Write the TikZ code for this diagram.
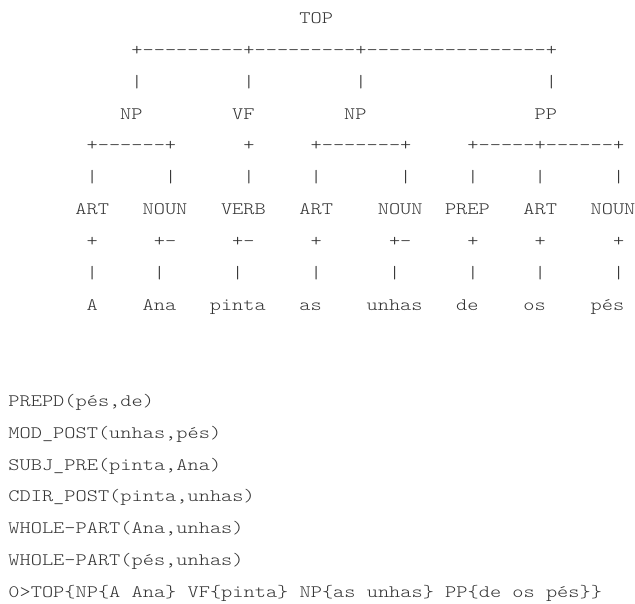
\documentclass[tikz,border=0pt]{standalone}
\definecolor{ink}{HTML}{333333}
\newcommand\dsh[1]{\foreach\i in {1,...,#1}{-\kern0pt}}
\begin{document}
\frenchspacing
\begin{tikzpicture}[x=11.2pt,y=-31.9pt,
  asc/.style={ink,inner sep=0pt,anchor=base,xscale=1.219,
    font=\ttfamily\fontseries{l}\fontsize{17.5}{20}\selectfont},
  ascl/.style={asc,anchor=base west}]
\useasboundingbox (-13.8pt,23.4pt) rectangle (621.2pt,-580.6pt);
% arvore
\draw (27,0) node[asc] (top) {TOP};
\draw (29.5,1) node[asc] (topbar) {+\dsh{9}+\dsh{9}+\dsh{16}+};
\draw (11,2) node[asc] (v1) {|};
\draw (21,2) node[asc] (v2) {|};
\draw (31,2) node[asc] (v3) {|};
\draw (48,2) node[asc] (v4) {|};
\draw (10.5,3) node[asc] (np1) {NP};
\draw (20.5,3) node[asc] (vf) {VF};
\draw (30.5,3) node[asc] (np2) {NP};
\draw (47.5,3) node[asc] (pp) {PP};
\draw (10.5,4) node[asc] (np1bar) {+\dsh{6}+};
\draw (21,4) node[asc] (vfbar) {+};
\draw (31,4) node[asc] (np2bar) {+\dsh{7}+};
\draw (47.5,4) node[asc] (ppbar) {+\dsh{5}+\dsh{6}+};
\draw (7,5) node[asc] (w1) {|};
\draw (14,5) node[asc] (w2) {|};
\draw (21,5) node[asc] (w3) {|};
\draw (27,5) node[asc] (w4) {|};
\draw (35,5) node[asc] (w5) {|};
\draw (41,5) node[asc] (w6) {|};
\draw (47,5) node[asc] (w7) {|};
\draw (54,5) node[asc] (w8) {|};
% categorias
\draw (7,6) node[asc] (art1) {ART};
\draw (13.5,6) node[asc] (noun1) {NOUN};
\draw (20.5,6) node[asc] (verb) {VERB};
\draw (27,6) node[asc] (art2) {ART};
\draw (34.5,6) node[asc] (noun2) {NOUN};
\draw (40.5,6) node[asc] (prep) {PREP};
\draw (47,6) node[asc] (art3) {ART};
\draw (53.5,6) node[asc] (noun3) {NOUN};
\draw (7,7) node[asc] (p1) {+};
\draw (13.5,7) node[asc] (p2) {+-};
\draw (20.5,7) node[asc] (p3) {+-};
\draw (27,7) node[asc] (p4) {+};
\draw (34.5,7) node[asc] (p5) {+-};
\draw (41,7) node[asc] (p6) {+};
\draw (47,7) node[asc] (p7) {+};
\draw (54,7) node[asc] (p8) {+};
\draw (7,8) node[asc] (u1) {|};
\draw (13,8) node[asc] (u2) {|};
\draw (20,8) node[asc] (u3) {|};
\draw (27,8) node[asc] (u4) {|};
\draw (34,8) node[asc] (u5) {|};
\draw (41,8) node[asc] (u6) {|};
\draw (47,8) node[asc] (u7) {|};
\draw (54,8) node[asc] (u8) {|};
% palavras
\draw (7,9) node[asc] (a) {A};
\draw (13,9) node[asc] (ana) {Ana};
\draw (20,9) node[asc] (pinta) {pinta};
\draw (26.5,9) node[asc] (as) {as};
\draw (34,9) node[asc] (unhas) {unhas};
\draw (40.5,9) node[asc] (de) {de};
\draw (46.5,9) node[asc] (os) {os};
\draw (53,9) node[asc] (pes) {pés};
% relacoes
\draw (-0.5,12) node[ascl] (r1) {PREPD(pés,de)};
\draw (-0.5,13) node[ascl] (r2) {MOD\_POST(unhas,pés)};
\draw (-0.5,14) node[ascl] (r3) {SUBJ\_PRE(pinta,Ana)};
\draw (-0.5,15) node[ascl] (r4) {CDIR\_POST(pinta,unhas)};
\draw (-0.5,16) node[ascl] (r5) {WHOLE-PART(Ana,unhas)};
\draw (-0.5,17) node[ascl] (r6) {WHOLE-PART(pés,unhas)};
\draw (-0.5,18) node[ascl] (r7) {0>TOP\{NP\{A Ana\} VF\{pinta\} NP\{as unhas\} PP\{de os pés\}\}};
\end{tikzpicture}
\end{document}
